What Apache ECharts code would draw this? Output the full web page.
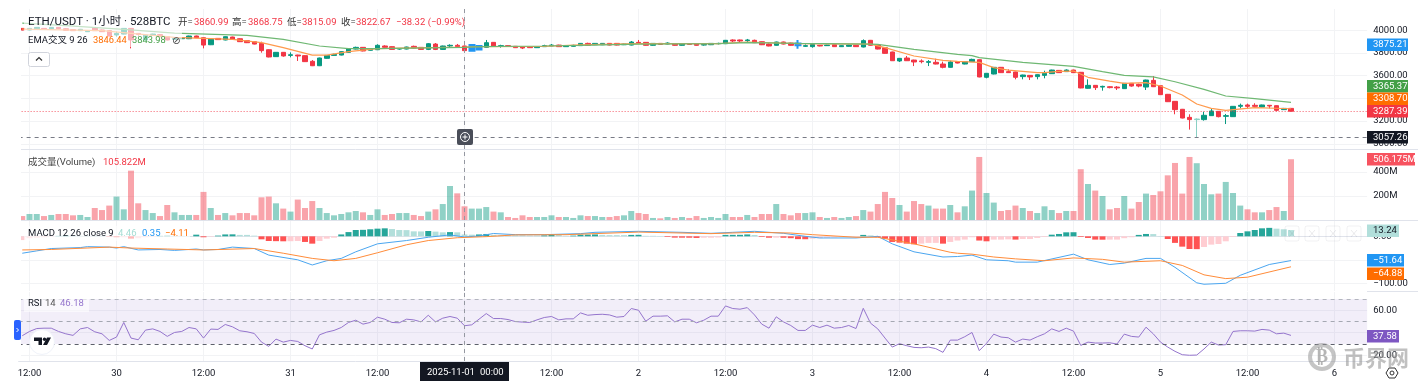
<!DOCTYPE html>
<html>
<head>
<meta charset="utf-8">
<title>ETH/USDT</title>
<script src="https://cdn.jsdelivr.net/npm/echarts@6/dist/echarts.min.js"></script>
<style>
  html, body { margin: 0; padding: 0; background: #fff; }
  #chart { width: 1420px; height: 387px; }
</style>
</head>
<body>
<div id="chart"></div>
<script>
// hourly candles, index 1 = Oct 29 12:00
const opens = [
  4017,4003,4014,4017,4014,4026,4014,4006,3997,3988,
  4020,4003,3997,3959,3967,4017,3973,3915,3956,3962,
  3944,3920,3926,3926,3950,3935,3873,3929,3915,3941,
  3926,3909,3900,3885,3829,3768,3806,3779,3782,3777,
  3727,3688,3753,3779,3782,3806,3835,3850,3824,3829,
  3862,3856,3835,3835,3859,3850,3832,3879,3832,3862,
  3868,3862,3821,3832,3850,3894,3859,3865,3859,3856,
  3856,3847,3856,3862,3870,3856,3859,3865,3885,3873,
  3873,3885,3885,3873,3870,3894,3894,3868,3885,3879,
  3882,3868,3882,3882,3870,3873,3882,3882,3915,3915,
  3909,3912,3900,3879,3868,3897,3888,3885,3859,3856,
  3868,3865,3873,3856,3859,3868,3853,3912,3870,3847,
  3809,3730,3756,3738,3730,3718,3718,3703,3674,3724,
  3703,3724,3741,3586,3615,3674,3636,3633,3592,3603,
  3592,3603,3618,3647,3636,3650,3630,3489,3515,3500,
  3503,3500,3486,3533,3524,3500,3559,3512,3436,3374,
  3304,3233,3213,3213,3248,3286,3242,3239,3330,3342,
  3339,3324,3339,3336,3301,3312
];
const closes = [
  4003,4017,4026,4009,4026,4014,4000,3997,4009,3997,
  3997,3988,3950,3973,4017,3915,3964,3959,3967,3944,
  3915,3929,3935,3950,3935,3870,3923,3918,3944,3920,
  3900,3891,3879,3821,3765,3806,3774,3785,3774,3724,
  3688,3756,3779,3788,3812,3838,3850,3818,3838,3868,
  3850,3832,3838,3853,3844,3832,3882,3832,3862,3868,
  3856,3821,3870,3862,3891,3859,3865,3859,3847,3844,
  3847,3856,3865,3870,3856,3862,3868,3885,3868,3885,
  3885,3870,3870,3879,3897,3885,3868,3885,3876,3888,
  3868,3879,3876,3868,3876,3885,3885,3912,3906,3906,
  3915,3891,3873,3862,3897,3879,3868,3868,3865,3876,
  3862,3870,3856,3865,3870,3856,3909,3868,3835,3797,
  3732,3753,3732,3721,3724,3724,3703,3674,3721,3712,
  3724,3744,3589,3621,3674,3627,3627,3586,3606,3589,
  3609,3621,3650,3627,3650,3627,3492,3515,3495,3506,
  3495,3492,3533,3509,3509,3562,3503,3433,3371,3301,
  3227,3213,3218,3251,3289,3239,3248,3330,3339,3330,
  3330,3342,3333,3295,3312,3287.39
];
const lows = [
  4000,4000,4011,4006,4011,4011,3997,3994,3994,3985,
  3994,3985,3947,3944,3964,3841,3953,3912,3953,3941,
  3912,3917,3923,3923,3932,3841,3870,3915,3912,3917,
  3897,3888,3876,3803,3762,3765,3768,3762,3730,3721,
  3685,3685,3750,3776,3779,3803,3832,3815,3821,3826,
  3847,3829,3829,3832,3841,3829,3826,3826,3829,3850,
  3853,3818,3812,3826,3847,3856,3847,3856,3844,3835,
  3844,3844,3853,3859,3853,3853,3856,3862,3865,3870,
  3870,3867,3867,3870,3867,3882,3865,3865,3873,3876,
  3865,3865,3873,3865,3865,3870,3876,3879,3897,3897,
  3897,3888,3870,3859,3865,3876,3865,3838,3853,3847,
  3859,3862,3853,3853,3856,3853,3850,3865,3832,3794,
  3730,3721,3730,3685,3709,3685,3700,3665,3671,3709,
  3700,3721,3586,3577,3612,3624,3624,3568,3568,3562,
  3568,3577,3615,3624,3633,3624,3489,3486,3474,3468,
  3489,3474,3483,3503,3498,3474,3500,3430,3368,3260,
  3224,3125,3057.26,3204,3245,3233,3174,3236,3312,3312,
  3327,3321,3312,3286,3298,3284
];
const highs = [
  4020,4020,4029,4020,4029,4029,4017,4009,4012,4000,
  4023,4006,4000,3988,4020,4020,3976,3962,3970,3965,
  3947,3932,3938,3953,3953,3938,3926,3932,3947,3944,
  3929,3912,3903,3900,3832,3809,3809,3806,3785,3780,
  3738,3759,3782,3794,3815,3841,3856,3853,3841,3877,
  3868,3859,3841,3856,3865,3853,3888,3888,3865,3877,
  3880,3865,3880,3870,3915,3897,3873,3868,3862,3859,
  3859,3859,3873,3879,3873,3865,3873,3888,3891,3888,
  3888,3888,3888,3882,3906,3915,3897,3888,3888,3894,
  3885,3882,3885,3885,3879,3888,3891,3915,3920,3918,
  3924,3918,3903,3885,3900,3900,3891,3915,3876,3879,
  3871,3873,3876,3868,3873,3871,3920,3915,3873,3850,
  3812,3756,3774,3741,3744,3738,3750,3724,3732,3727,
  3727,3750,3744,3624,3677,3677,3656,3636,3609,3606,
  3612,3644,3653,3650,3656,3653,3633,3568,3518,3512,
  3509,3509,3536,3536,3530,3565,3597,3515,3439,3377,
  3307,3260,3224,3283,3312,3289,3263,3333,3354,3354,
  3357,3345,3342,3339,3316,3316
];
const highlightedCandles = [62, 63, 107];

// [candle index, value], read at the bends of each line
const ema9 = [
  [0,4011],[11,3997],[21,3938],[29,3920],[33,3891],[36,3847],[40,3782],[42,3782],[45,3812],[49,3838],
  [52,3844],[61,3853],[63,3856],[72,3859],[77,3873],[85,3882],[96,3882],[100,3897],[107,3882],[117,3879],
  [119,3847],[123,3774],[127,3735],[129,3727],[132,3718],[134,3671],[136,3650],[140,3627],[141,3627],[143,3638],
  [145,3641],[147,3586],[150,3553],[152,3533],[155,3539],[157,3509],[160,3430],[162,3351],[164,3312],[166,3295],
  [170,3318],[175,3308.7]
];
const ema26 = [
  [0,4064],[6,4041],[14,4009],[21,3976],[31,3956],[36,3920],[41,3862],[45,3838],[49,3838],[61,3850],
  [63,3856],[72,3862],[77,3868],[85,3879],[96,3882],[100,3891],[107,3885],[117,3879],[118,3876],[123,3832],
  [129,3788],[131,3777],[132,3759],[138,3718],[145,3683],[149,3636],[152,3603],[156,3589],[159,3547],[163,3480],
  [166,3421],[170,3398],[175,3365.37]
];

const volumes = [
  33,50,50,33,42,50,50,39,42,25,
  100,83,120,195,89,411,139,83,58,33,
  125,64,42,42,42,234,100,42,58,39,
  58,58,39,189,195,139,95,70,170,100,
  158,100,58,39,50,64,75,64,42,89,
  42,50,58,58,42,33,70,89,133,283,
  222,114,95,95,108,70,64,25,17,39,
  25,25,25,39,25,25,17,39,33,33,
  25,25,33,39,75,58,50,17,14,25,
  17,25,17,33,17,25,17,50,25,25,
  42,25,50,50,133,50,39,58,58,64,
  25,17,25,17,25,33,83,70,133,234,
  183,125,70,158,133,120,95,95,125,64,
  114,245,525,225,145,75,83,120,100,75,
  58,114,83,58,75,75,423,300,245,200,
  89,100,200,95,150,220,208,239,372,475,
  220,525,473,300,214,220,317,225,120,89,
  64,64,83,108,75,506.175
];

const macdHist = [
  -8,-4,-3,-2,-1,1,2,1.5,1,1,
  1,1,-1,-2,-2,-5,-4,-2,-1,1,
  1.5,1,1,0.5,3.5,-2,-1,1.5,4,4.2,
  3,3,1.4,-6.4,-10,-10.3,-10.6,-10.4,-10,-12,
  -15.6,-10,-5,-3,4,9,13.5,13.8,15,16.3,
  17,15.6,13.5,13.2,10.6,10.4,11.3,10,8.5,9,
  8.5,4,3.5,4,5,3,2,2,2,2,
  1.5,1.5,2,4,3,1,1.5,3.5,3.7,4,
  3,2.5,2.5,2.5,3,3.2,1,1,0.7,-1.4,
  -2.8,-2.9,-3,-3.5,-3,-3,-2.5,3,3.1,3.2,
  4,2.8,-1.4,-3,-2.9,-3.1,-4,-6,-6.2,-5,
  -4,-3,-2,-1.5,-1,-0.8,3,2,-2,-5,
  -12,-13.5,-15.6,-17,-15.6,-14,-14,-15.6,-12,-9,
  -7,-2,-9,-10.6,-7,-7,-6.4,-7,-5.7,-5.7,
  -3.5,-1.4,3.5,5,8.5,8.7,-1.4,-3.5,-7,-7.2,
  -7,-7,-4,-2,3,5,4.8,0.7,-5.7,-14,
  -22,-27,-27.3,-22.7,-17.7,-16.3,-10.6,-1.4,7,10.6,
  13.5,17,18,16.3,15,13.24
];
const macdLine = [
  [0,-36],[2,-31],[4,-26],[8,-24],[9,-22],[12,-23],[13,-25],[14,-22],[16,-29],[19,-28],
  [21,-30],[24,-27],[25,-29],[27,-28],[29,-23],[32,-26],[34,-40],[38,-50],[40,-61],[42,-52],
  [44,-47],[46,-33],[49,-16],[53,-9],[56,-2],[59,3],[61,-1.4],[63,0.7],[65,6],[68,3.5],
  [72,3.5],[77,5.7],[79,8.5],[85,10.6],[91,8.5],[95,6.4],[98,8.5],[101,10.6],[105,6.4],[108,0],
  [110,-3.5],[115,-3.5],[118,0],[120,-16],[123,-33],[127,-44],[129,-43],[131,-40],[133,-50],[136,-52],
  [137,-55],[140,-55],[145,-38],[147,-50],[150,-60],[152,-57],[155,-47],[157,-47],[159,-66],[162,-99],
  [163,-102],[166,-100],[168,-83],[172,-60],[175,-51.64]
];
const macdSignal = [
  [0,-29],[4,-28],[12,-23],[15,-25],[20,-27],[25,-29],[32,-26],[36,-36],[40,-47],[43,-52],
  [46,-47],[49,-35],[53,-18],[56,-9],[60,-3],[64,-0.7],[68,3],[75,3.5],[79,5.7],[85,9],
  [91,7],[95,5.7],[101,8.5],[106,7],[109,3.5],[115,-2],[118,-2],[123,-16],[128,-34],[129,-36],
  [131,-38],[134,-44],[137,-48],[141,-52],[145,-46],[149,-49],[152,-55],[157,-52],[160,-62],[163,-82],
  [166,-90],[169,-87],[175,-64.88]
];

const rsi = [
  37.3,41.1,43.7,44,44,41.1,39,37.6,43.4,44.6,
  40.8,39,33.1,36.1,49.1,35.2,33.7,42.3,43.4,41.1,
  36.7,40.2,41.1,44.6,43.4,35.2,43.2,42.9,47.3,45.2,
  41.7,40.8,39.3,31.6,27.8,34.3,31.6,33.1,32.2,28.4,
  25.5,38.1,40.5,42,44.6,49.1,51.1,47.6,49.1,53.8,
  52,49.1,48.8,52,51.4,49.6,55.5,49.6,52.9,54.4,
  52.9,46.18,47,52,57,52.6,52.6,51.7,49.9,49.4,
  49.1,51.4,53.5,54.4,51.4,52.3,52.3,57.6,55.5,56.1,
  56.4,55.8,53.8,54.4,61.5,60,50.2,54.7,54.7,55,
  49.6,52,52,48.8,51.1,54.7,54.7,63.8,61.5,60.9,
  62.3,55.8,47.6,44,54.1,49.6,46.4,42,42,46.7,
  44.6,46.7,44,44.6,46.4,43.7,61.7,48.5,43.4,35.2,
  27.2,30.2,28.4,26.9,26.6,27.2,25.8,22.5,33.4,33.4,
  36.4,40.2,24,30.5,38.7,36.1,35.5,31.6,34.3,33.4,
  36.4,39,43.4,41.1,44,41.4,28.7,31.6,30.8,30.8,
  31,29.9,38.7,36.7,36.1,44.9,39,31.6,27.2,23.4,
  20.4,19.9,20.1,25.5,31.6,29,29.3,41.1,41.7,41.7,
  41.4,42.9,42.3,39,39.6,37.58
];

// one label every 12 candles starting at index 1
const timeTicks = ['12:00','30','12:00','31','12:00','00:00','12:00','2','12:00','3','12:00','4','12:00','5','12:00','6'];
const categories = Array.from({ length: 186 }, (_, i) => String(i));

const priceTicks = [3000, 3200, 3400, 3600, 3800, 4000];
const volumeTicks = [200, 400];
const macdTicks = [-100, -50, 0];
const rsiTicks = [20, 40, 60];
const rsiLabels = [20, 60];

const lastPrice = 3287.39;
const markedLow = 3057.26;
const crosshairIndex = 61;

const UP = '#089981';
const DOWN = '#F23645';
const BLUE = '#2196F3';
const ORANGE = '#FF6D00';
const GREEN_LINE = '#43A047';
const PURPLE = '#7E57C2';
const GRID = '#F2F3F5';
const SEPARATOR = '#E0E3EB';
const INK = '#131722';
const FONT = 'Roboto, "Noto Sans CJK SC", sans-serif';

const paneLeft = 18.625;
const paneWidth = 1348.5;
const panes = [
  { top: 9, height: 140, min: 2954, max: 4188, ticks: priceTicks, labels: priceTicks, fmt: v => v.toFixed(2) },
  { top: 150, height: 70, min: 0, max: 583, ticks: volumeTicks, labels: volumeTicks, fmt: v => v + 'M' },
  { top: 221, height: 70, min: -116.4, max: 32.6, ticks: macdTicks, labels: macdTicks, fmt: v => v.toFixed(2).replace('-', '\u2212') },
  { top: 292, height: 69, min: 14.8, max: 76.2, ticks: rsiTicks, labels: rsiLabels, fmt: v => v.toFixed(2) }
];

const isTimeTick = i => (i - 1) % 12 === 0;

const crosshair = {
  silent: true,
  symbol: 'none',
  animation: false,
  label: { show: false },
  lineStyle: { color: '#9598A1', type: [4, 4], width: 1 },
  data: [{ xAxis: crosshairIndex }]
};

function candleData() {
  return opens.map((o, i) => {
    const value = [o, closes[i], lows[i], highs[i]];
    if (highlightedCandles.includes(i)) {
      return { value, itemStyle: { color: BLUE, color0: BLUE, borderColor: BLUE, borderColor0: BLUE, borderWidth: 2 } };
    }
    if (lows[i] === markedLow) {
      return { value, itemStyle: { color: '#8AD0C4', borderColor: '#8AD0C4' } };
    }
    return value;
  });
}

function volumeColor(i) {
  return closes[i] < opens[i] ? 'rgba(242,54,69,0.45)' : 'rgba(8,153,129,0.45)';
}

function histColor(v, i) {
  const prev = i > 0 ? macdHist[i - 1] : v;
  if (v >= 0) return v > prev ? '#26A69A' : '#B2DFDB';
  return v < prev ? '#FF5252' : '#FFCDD2';
}

function txt(text, x, y, fill, fontSize, extra) {
  return {
    type: 'text', z: 120, x, y,
    style: Object.assign({ text, fill, font: (fontSize || 10) + 'px ' + FONT, textVerticalAlign: 'middle' }, extra || {})
  };
}

function tag(label, top, width, bg, fg) {
  return [
    { type: 'rect', z: 105, shape: { x: 1367, y: top, width, height: 12.5 }, style: { fill: bg } },
    txt(label, 1373, top + 6.5, fg || '#fff', 9.5)
  ];
}

// faint drawing-tool buttons that sit over the MACD pane
function ghostButton(x) {
  return [
    { type: 'rect', z: 101, shape: { x, y: 226, width: 14, height: 15, r: 2 }, style: { fill: 'none', stroke: 'rgba(120,123,134,0.1)' } },
    { type: 'line', z: 101, shape: { x1: x + 4, y1: 230, x2: x + 10, y2: 237 }, style: { stroke: 'rgba(120,123,134,0.15)' } },
    { type: 'line', z: 101, shape: { x1: x + 10, y1: 230, x2: x + 4, y2: 237 }, style: { stroke: 'rgba(120,123,134,0.15)' } }
  ];
}

const overlays = [
  // keeps the pane's left edge clean, candle 0 is only half on screen
  { type: 'rect', z: 100, shape: { x: 0, y: 0, width: 21, height: 361 }, style: { fill: '#fff' } },
  { type: 'rect', z: 101, shape: { x: 24, y: 14, width: 158, height: 33 }, style: { fill: 'rgba(255,255,255,0.6)' } },
  { type: 'rect', z: 101, shape: { x: 24, y: 226, width: 166, height: 15 }, style: { fill: 'rgba(255,255,255,0.6)' } },
  { type: 'rect', z: 101, shape: { x: 24, y: 296, width: 65, height: 16 }, style: { fill: 'rgba(255,255,255,0.6)' } },
  // pane separators run through the price scale
  { type: 'line', z: 99, shape: { x1: 1367, y1: 149.5, x2: 1418, y2: 149.5 }, style: { stroke: SEPARATOR } },
  { type: 'line', z: 99, shape: { x1: 1367, y1: 220.5, x2: 1418, y2: 220.5 }, style: { stroke: SEPARATOR } },
  { type: 'line', z: 99, shape: { x1: 1367, y1: 291.5, x2: 1418, y2: 291.5 }, style: { stroke: SEPARATOR } },

  txt('ETH/USDT \u00b7 1\u5c0f\u65f6 \u00b7 528BTC', 28, 22, INK, 11.5),
  txt('\u5f00=', 178, 23, '#333', 9.5), txt('3860.99', 194, 23, DOWN, 9.5),
  txt('\u9ad8=', 232, 23, '#333', 9.5), txt('3868.75', 248, 23, DOWN, 9.5),
  txt('\u4f4e=', 287, 23, '#333', 9.5), txt('3815.09', 302, 23, DOWN, 9.5),
  txt('\u6536=', 341, 23, '#333', 9.5), txt('3822.67', 356, 23, DOWN, 9.5),
  txt('\u221238.32 (\u22120.99%)', 396, 23, DOWN, 9.5),

  txt('EMA\u4ea4\u53c9 9 26', 28, 41, INK, 9.5),
  txt('3846.44', 93, 41, ORANGE, 9.3),
  txt('3843.98', 132, 41, GREEN_LINE, 9.3),
  txt('\u2298', 172, 41, '#444', 10, { font: '10px "DejaVu Sans"' }),

  { type: 'rect', z: 110, shape: { x: 28.5, y: 52.5, width: 21, height: 14, r: 2 }, style: { fill: '#fff', stroke: '#D1D4DC' } },
  { type: 'polyline', z: 111, shape: { points: [[36, 60.5], [39, 57.5], [42, 60.5]] }, style: { stroke: '#333', fill: 'none', lineWidth: 1.2 } },

  txt('\u6210\u4ea4\u91cf(Volume)', 28, 163, '#444', 9.5),
  txt('105.822M', 103, 163, DOWN, 9.5),

  ...ghostButton(1285),
  ...ghostButton(1305),
  ...ghostButton(1326),
  ...ghostButton(1347),

  txt('MACD 12 26 close 9', 28, 234, INK, 9.5),
  txt('4.46', 118, 234, '#A5DDD4', 9.5),
  txt('0.35', 142, 234, BLUE, 9.5),
  txt('\u22124.11', 165, 234, ORANGE, 9.5),

  txt('RSI', 28, 304, INK, 9.5),
  txt('14', 45, 304, '#555', 9.5),
  txt('46.18', 60, 304, '#9575CD', 9.5),

  // crosshair "add" button
  { type: 'rect', z: 112, shape: { x: 457, y: 129, width: 16, height: 16, r: 2 }, style: { fill: '#4A4E59' } },
  { type: 'circle', z: 113, shape: { cx: 465, cy: 137, r: 4.5 }, style: { fill: 'none', stroke: '#fff', lineWidth: 1 } },
  { type: 'line', z: 113, shape: { x1: 462.5, y1: 137, x2: 467.5, y2: 137 }, style: { stroke: '#fff' } },
  { type: 'line', z: 113, shape: { x1: 465, y1: 134.5, x2: 465, y2: 139.5 }, style: { stroke: '#fff' } },

  // crosshair time pill
  { type: 'rect', z: 112, shape: { x: 420, y: 362, width: 89, height: 19 }, style: { fill: INK } },
  txt('2025-11-01', 427, 372.5, '#fff', 9.5),
  txt('00:00', 480, 372.5, '#fff', 9.5),

  // collapse tab and logo
  { type: 'rect', z: 112, shape: { x: 14, y: 320, width: 7, height: 20, r: 2 }, style: { fill: '#2962FF' } },
  { type: 'polyline', z: 113, shape: { points: [[16.5, 328], [18.5, 330], [16.5, 332]] }, style: { stroke: '#fff', fill: 'none' } },
  { type: 'circle', z: 112, shape: { cx: 42, cy: 342, r: 12.5 }, style: { fill: '#fff', stroke: '#F0F3FA' } },
  { type: 'polygon', z: 113, shape: { points: [[34, 337.5], [42, 337.5], [42, 345], [38.5, 345], [38.5, 341], [34, 341]] }, style: { fill: INK } },
  { type: 'circle', z: 113, shape: { cx: 44.5, cy: 339.2, r: 1.7 }, style: { fill: INK } },
  { type: 'polygon', z: 113, shape: { points: [[47, 337.5], [51, 337.5], [47, 345], [43, 345]] }, style: { fill: INK } },

  // watermark
  { type: 'circle', z: 114, shape: { cx: 1322, cy: 357, r: 12 }, style: { fill: 'none', stroke: 'rgba(150,150,150,0.55)', lineWidth: 4 } },
  txt('\u20bf', 1316, 357, 'rgba(150,150,150,0.7)', 18, { font: 'bold 18px "DejaVu Sans"' }),
  txt('\u5e01\u754c\u7f51', 1343, 358, 'rgba(150,150,150,0.6)', 22, { font: 'bold 22px "Noto Sans CJK SC"' }),

  // settings icon
  { type: 'polygon', z: 110, shape: { points: [[1386, 373], [1389, 368], [1395, 368], [1398, 373], [1395, 378], [1389, 378]] }, style: { fill: 'none', stroke: '#333' } },
  { type: 'circle', z: 110, shape: { cx: 1392, cy: 373, r: 2 }, style: { fill: 'none', stroke: '#333' } },

  ...tag('3875.21', 38.5, 41, BLUE),
  ...tag('3365.37', 80, 41, GREEN_LINE),
  ...tag('3308.70', 92.5, 41, ORANGE),
  ...tag('3287.39', 105, 41, DOWN),
  ...tag('3057.26', 131, 41, INK),
  ...tag('506.175M', 153, 48, '#F7525F'),
  ...tag('13.24', 224.5, 32, '#B2DFDB', INK),
  ...tag('\u221251.64', 254, 37, BLUE),
  ...tag('\u221264.88', 267.5, 37, ORANGE),
  ...tag('37.58', 330, 32, PURPLE)
];

const option = {
  animation: false,
  backgroundColor: '#fff',
  textStyle: { fontFamily: FONT },
  graphic: overlays,
  grid: panes.map(p => ({ left: paneLeft, width: paneWidth, top: p.top, height: p.height })),
  xAxis: panes.map((p, idx) => ({
    type: 'category',
    gridIndex: idx,
    data: categories,
    boundaryGap: true,
    axisLine: { show: true, lineStyle: { color: SEPARATOR } },
    axisTick: { show: false, alignWithLabel: true, interval: isTimeTick },
    splitLine: { show: true, alignWithLabel: true, interval: isTimeTick, lineStyle: { color: GRID } },
    axisLabel: idx === 3 ? {
      show: true,
      interval: isTimeTick,
      color: INK,
      fontSize: 9.5,
      margin: 8,
      hideOverlap: false,
      formatter: (v, i) => timeTicks[(i - 1) / 12]
    } : { show: false }
  })),
  yAxis: panes.map((p, idx) => ({
    type: 'value',
    gridIndex: idx,
    position: 'right',
    scale: true,
    min: p.min,
    max: p.max,
    axisLine: { show: false },
    axisTick: { show: false, customValues: p.ticks },
    splitLine: { show: true, lineStyle: { color: GRID } },
    axisLabel: { customValues: p.labels, color: INK, fontSize: 9.5, margin: 6, formatter: p.fmt }
  })),
  series: [
    {
      name: 'ETH/USDT',
      type: 'candlestick',
      xAxisIndex: 0,
      yAxisIndex: 0,
      barWidth: 5,
      itemStyle: { color: UP, color0: DOWN, borderColor: UP, borderColor0: DOWN, borderWidth: 1 },
      data: candleData(),
      markLine: {
        silent: true,
        symbol: 'none',
        animation: false,
        label: { show: false },
        data: [
          { yAxis: lastPrice, lineStyle: { color: DOWN, type: [1, 2], width: 1, opacity: 0.8 } },
          { yAxis: markedLow, lineStyle: { color: '#787B86', type: [4, 4], width: 1 } },
          { xAxis: crosshairIndex, lineStyle: { color: '#9598A1', type: [4, 4], width: 1 } }
        ]
      }
    },
    { name: 'EMA 9', type: 'line', xAxisIndex: 0, yAxisIndex: 0, data: ema9, symbol: 'none', lineStyle: { color: '#FF9A4D', width: 1.2 }, z: 5 },
    { name: 'EMA 26', type: 'line', xAxisIndex: 0, yAxisIndex: 0, data: ema26, symbol: 'none', lineStyle: { color: '#6FB873', width: 1.2 }, z: 5 },
    {
      name: 'Volume',
      type: 'bar',
      xAxisIndex: 1,
      yAxisIndex: 1,
      barWidth: 6,
      data: volumes.map((v, i) => ({ value: v, itemStyle: { color: volumeColor(i) } })),
      markLine: crosshair
    },
    {
      name: 'Histogram',
      type: 'bar',
      xAxisIndex: 2,
      yAxisIndex: 2,
      barWidth: 6,
      data: macdHist.map((v, i) => ({ value: v, itemStyle: { color: histColor(v, i) } })),
      markLine: crosshair
    },
    { name: 'MACD', type: 'line', xAxisIndex: 2, yAxisIndex: 2, data: macdLine, symbol: 'none', lineStyle: { color: '#4BA6F0', width: 1 }, z: 5 },
    { name: 'Signal', type: 'line', xAxisIndex: 2, yAxisIndex: 2, data: macdSignal, symbol: 'none', lineStyle: { color: '#FF8C3A', width: 1 }, z: 5 },
    {
      name: 'RSI',
      type: 'line',
      xAxisIndex: 3,
      yAxisIndex: 3,
      data: rsi,
      symbol: 'none',
      lineStyle: { color: '#9575CD', width: 1 },
      markArea: {
        silent: true,
        itemStyle: { color: 'rgba(126,87,194,0.1)' },
        data: [[{ yAxis: 70 }, { yAxis: 30 }]]
      },
      markLine: {
        silent: true,
        symbol: 'none',
        animation: false,
        label: { show: false },
        data: [
          { yAxis: 70, lineStyle: { color: '#B2B5BE', type: [4, 4], width: 1 } },
          { yAxis: 50, lineStyle: { color: '#A5A8B2', type: [4, 4], width: 1 } },
          { yAxis: 30, lineStyle: { color: '#5D606B', type: [4, 4], width: 1 } },
          { xAxis: crosshairIndex, lineStyle: { color: '#9598A1', type: [4, 4], width: 1 } }
        ]
      }
    }
  ]
};

const chart = echarts.init(document.getElementById('chart'));
chart.setOption(option);
</script>
</body>
</html>
